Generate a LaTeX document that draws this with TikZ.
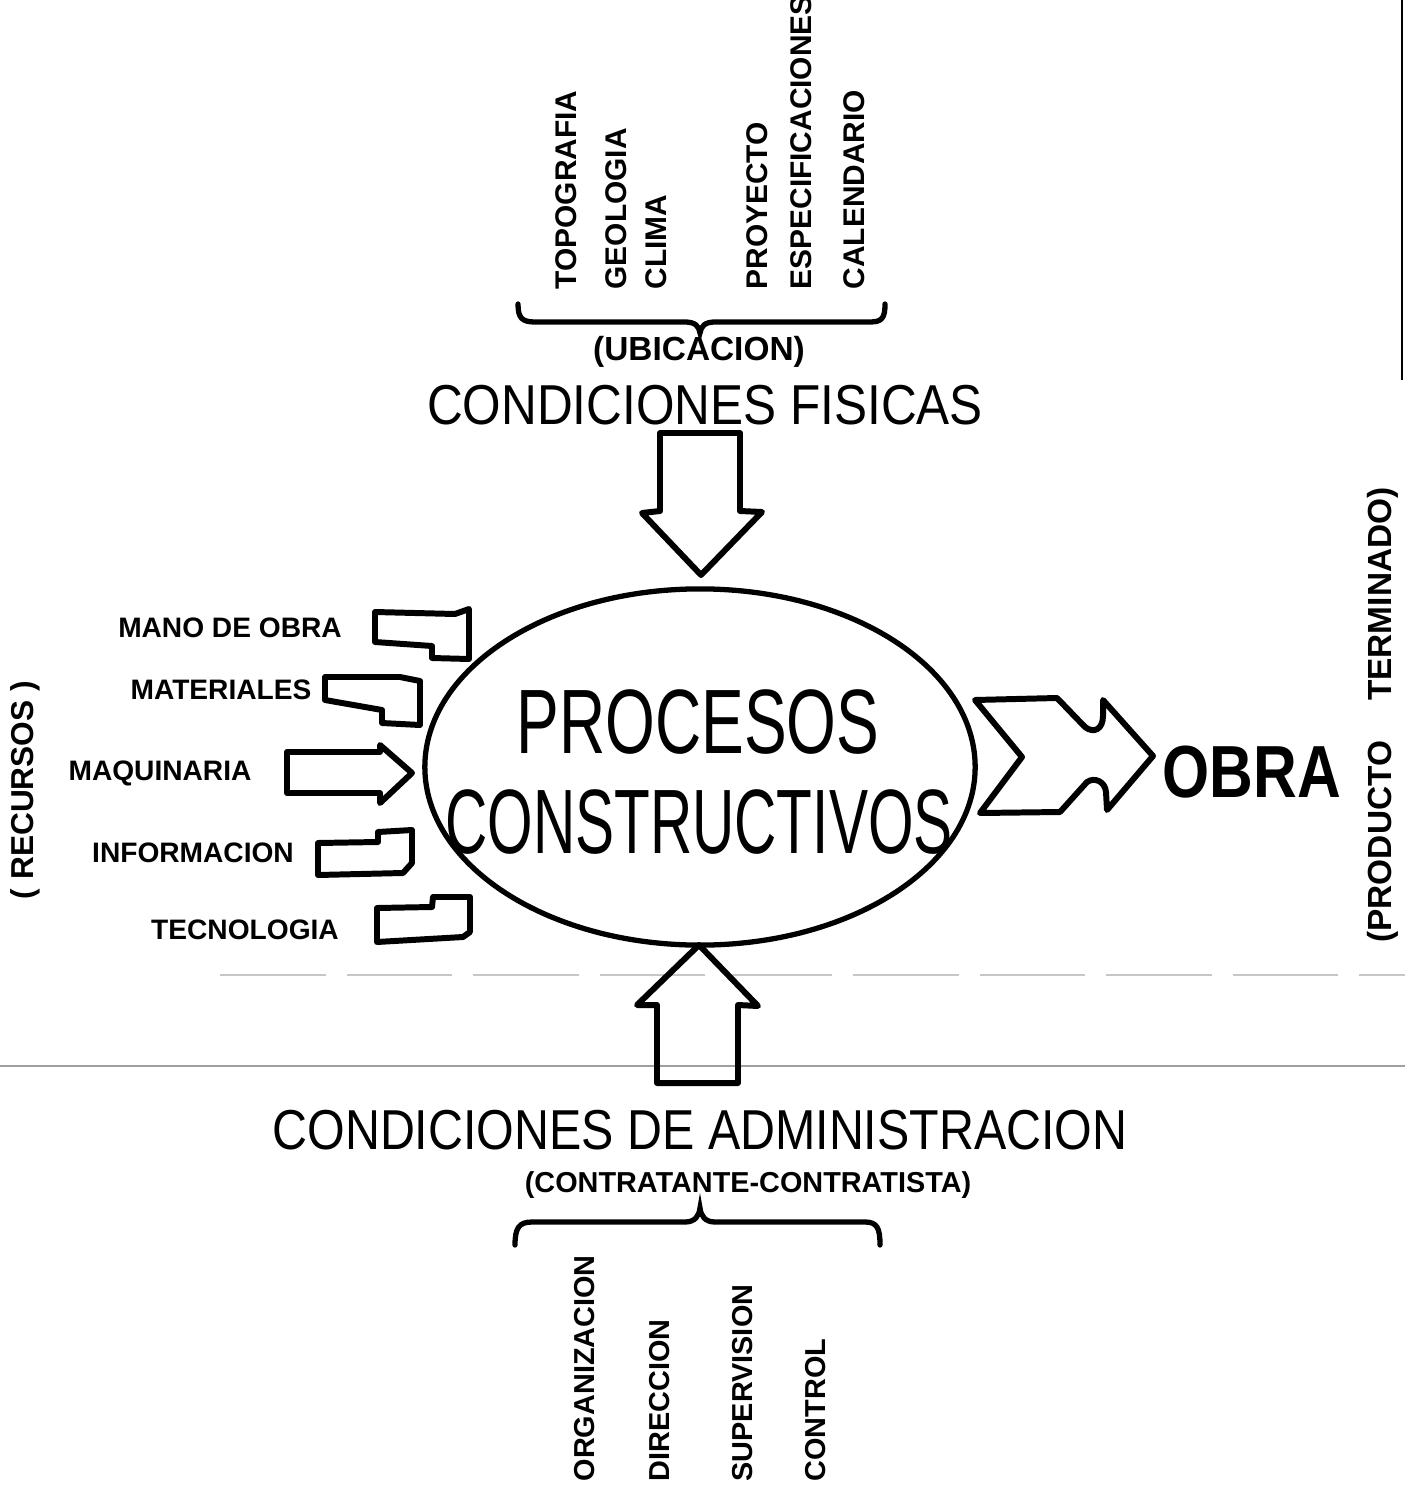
\documentclass[tikz,border=0pt]{standalone}
\usepackage{fontspec}
\setmainfont{Liberation Sans}
\usetikzlibrary{shapes.geometric}
\begin{document}
\begin{tikzpicture}[x=0.01cm,y=-0.01cm,
  outl/.style={draw=black,line width=1.7pt,line join=round,line cap=round},
  lbl/.style={inner sep=0pt,font=\fontsize{8}{9}\selectfont\bfseries},
  vlbl/.style={inner sep=0pt,rotate=90,anchor=west,font=\fontsize{8.5}{9}\selectfont\bfseries},
  blbl/.style={inner sep=0pt,rotate=90,anchor=west,font=\fontsize{8.2}{9}\selectfont\bfseries},
  big/.style={inner sep=0pt,font=\fontsize{16}{18}\selectfont}]
\useasboundingbox (0,0) rectangle (1405,1497);
\fill[white] (0,0) rectangle (1405,1497);

% scan artifacts
\draw[gray!45,line width=0.6pt,dash pattern=on 30pt off 6pt] (220,975) -- (1405,975);
\draw[gray!75,line width=0.8pt] (0,1066) -- (1405,1066);
\draw[black,line width=0.8pt] (1402,0) -- (1402,380);

% top labels
\node[vlbl] (topo) at (566,290) {TOPOGRAFIA};
\node[vlbl] (geo) at (616,290) {GEOLOGIA};
\node[vlbl] (clima) at (656,290) {CLIMA};
\node[vlbl] (proy) at (757,290) {PROYECTO};
\node[vlbl] (espe) at (801,290) {ESPECIFICACIONES};
\node[vlbl] (cal) at (854,290) {CALENDARIO};

% top brace
\draw[line width=1.5pt,line cap=round] (518,304) .. controls (518,318) and (522,322) .. (535,322)
  -- (685,322) .. controls (695,322) and (699,326) .. (700,333)
  .. controls (701,326) and (705,322) .. (715,322) -- (870,322)
  .. controls (882,322) and (885,318) .. (885,304);
\node[inner sep=0pt,font=\fontsize{9.5}{10}\selectfont\bfseries] (ubic) at (699,352) {(UBICACION)};

\node[big,xscale=0.88] (cfis) at (705,405) {CONDICIONES FISICAS};

% down arrow
\draw[outl] (660,433) -- (740,433) -- (740,511) -- (762,512) -- (701,575) -- (642,513) -- (660,511) -- cycle;

% ellipse
\node[draw,line width=1.5pt,ellipse,minimum width=5.5cm,minimum height=3.56cm,inner sep=0pt] (proc) at (700,767) {};
\node[inner sep=0pt,font=\fontsize{26}{28}\selectfont,xscale=0.70] (p1) at (698,722) {PROCESOS};
\node[inner sep=0pt,font=\fontsize{26}{28}\selectfont,xscale=0.64] (p2) at (699,822) {CONSTRUCTIVOS};

% big right arrow
\draw[outl] (975,700) -- (1057,698) -- (1085,727) .. controls (1094,734) and (1103,729) .. (1103,716)
  -- (1103,700) -- (1153,756) -- (1107,810) -- (1106,792) .. controls (1105,781) and (1094,777) .. (1087,782)
  -- (1060,812) -- (980,813) -- (1022,757) -- cycle;
\node[inner sep=0pt,font=\fontsize{21}{24}\selectfont\bfseries,xscale=0.82] (obra) at (1252,772) {OBRA};
\node[inner sep=0pt,rotate=90,font=\fontsize{9.5}{10}\selectfont\bfseries] (prod) at (1383,715) {(PRODUCTO\hspace{1.2em}TERMINADO)};

% resources
\node[inner sep=0pt,rotate=90,font=\fontsize{9}{10}\selectfont\bfseries] (rec) at (25,790) {( RECURSOS )};
\node[lbl] (mano) at (230,628) {MANO DE OBRA};
\node[lbl] (mat) at (221,690) {MATERIALES};
\node[lbl] (maq) at (160,773) {MAQUINARIA};
\node[lbl] (inf) at (193,853) {INFORMACION};
\node[lbl] (tec) at (245,930) {TECNOLOGIA};

\draw[outl] (375,612) -- (455,614) -- (469,609) -- (469,659) -- (432,658) -- (432,646) -- (375,642) -- cycle;
\draw[outl] (325,677) -- (400,677) -- (420,681) -- (420,725) -- (382,723) -- (382,710) -- (325,700) -- cycle;
\draw[outl] (287,752) -- (380,752) -- (380,745) -- (412,773) -- (380,803) -- (380,793) -- (287,793) -- cycle;
\draw[outl] (318,843) -- (378,842) -- (378,832) -- (412,830) -- (412,863) -- (403,873) -- (318,875) -- cycle;
\draw[outl] (377,908) -- (432,907) -- (433,897) -- (470,897) -- (470,932) -- (463,937) -- (377,942) -- cycle;

% up arrow
\draw[outl] (657,1083) -- (657,1005) -- (637,1005) -- (699,945) -- (758,1006) -- (738,1005) -- (738,1083) -- cycle;

\node[big,xscale=0.86] (cadm) at (700,1130) {CONDICIONES DE ADMINISTRACION};
\node[inner sep=0pt,font=\fontsize{8.2}{9}\selectfont\bfseries] (cc) at (748,1185) {(CONTRATANTE-CONTRATISTA)};

% bottom brace
\draw[line width=1.5pt,line cap=round] (515,1245) .. controls (515,1228) and (519,1222) .. (532,1222)
  -- (685,1222) .. controls (695,1222) and (699,1216) .. (700,1208)
  .. controls (701,1216) and (705,1222) .. (715,1222) -- (865,1222)
  .. controls (877,1222) and (880,1228) .. (880,1245);

% bottom labels
\node[blbl] (org) at (585,1482) {ORGANIZACION};
\node[blbl] (dir) at (660,1482) {DIRECCION};
\node[blbl] (sup) at (743,1482) {SUPERVISION};
\node[blbl] (ctl) at (816,1482) {CONTROL};
\end{tikzpicture}
\end{document}
